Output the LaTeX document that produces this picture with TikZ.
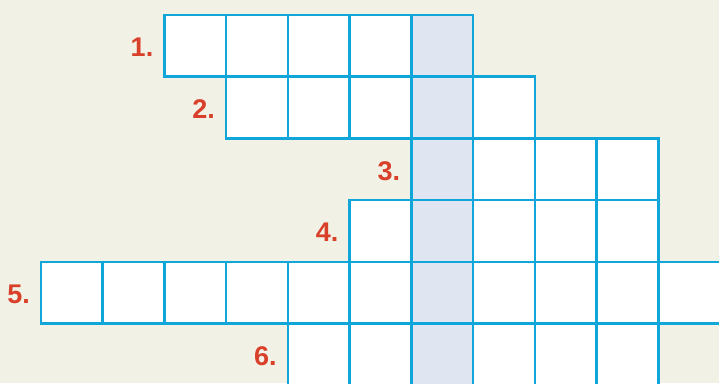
\documentclass[tikz,border=0pt]{standalone}
\usepackage{fontspec}
\setmainfont{Liberation Sans}
\definecolor{bgc}{HTML}{F2F1E6}
\definecolor{gridc}{HTML}{10A6DA}
\definecolor{hilite}{HTML}{E0E6F1}
\definecolor{numc}{HTML}{D9402A}
\tikzset{
  cellbox/.style={draw=gridc, line width=2.6pt, fill=white, minimum width=61.73pt, minimum height=61.73pt, inner sep=0pt, anchor=north west, outer sep=0pt},
  hicell/.style={cellbox, fill=hilite},
  numlabel/.style={text=numc, font=\fontsize{27}{27}\selectfont\bfseries, anchor=east, inner sep=0pt}
}
\begin{document}
\begin{tikzpicture}[x=1pt,y=-1pt]
\useasboundingbox (0,0) rectangle (719,383);
\clip (0,0) rectangle (719,383);
\fill[bgc] (0,0) rectangle (719,383);
% row: index / first column / number of cells
\foreach \r/\s/\n in {1/2/5, 2/3/5, 3/6/4, 4/5/5, 5/0/11, 6/4/6}{
  \pgfmathsetmacro{\yy}{15+61.73*(\r-1)}
  \pgfmathtruncatemacro{\last}{\s+\n-1}
  \foreach \c in {\s,...,\last}{
    \pgfmathsetmacro{\xx}{41+61.73*\c}
    \ifnum\c=6
      \node[hicell] (c\r-\c) at (\xx,\yy) {};
    \else
      \node[cellbox] (c\r-\c) at (\xx,\yy) {};
    \fi
  }
  \node[numlabel] (n\r) at ([xshift=-11pt,yshift=-1.5pt]c\r-\s.west) {\r.};
}
\end{tikzpicture}
\end{document}
